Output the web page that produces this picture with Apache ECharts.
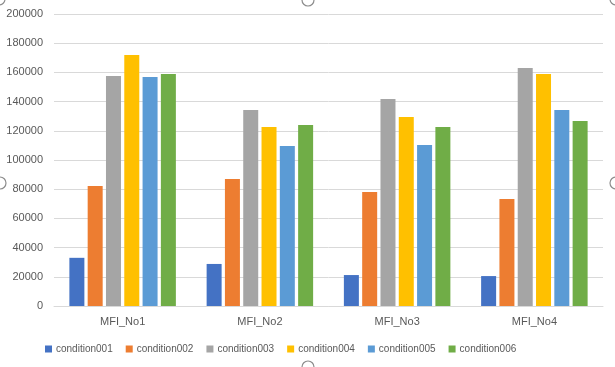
<!DOCTYPE html>
<html>
<head>
<meta charset="utf-8">
<script src="https://cdn.jsdelivr.net/npm/echarts@6/dist/echarts.min.js"></script>
<style>
  html, body { margin: 0; padding: 0; background: #fff; }
  #main { width: 615px; height: 367px; }
</style>
</head>
<body>
<div id="main"></div>
<script>
var categories = ['MFI_No1', 'MFI_No2', 'MFI_No3', 'MFI_No4'];
var seriesNames = ['condition001', 'condition002', 'condition003', 'condition004', 'condition005', 'condition006'];
var colors = ['#4472C4', '#ED7D31', '#A5A5A5', '#FFC000', '#5B9BD5', '#70AD47'];

var condition001 = [33000, 28800, 21200, 20500];
var condition002 = [82200, 87000, 78100, 73300];
var condition003 = [157500, 134200, 141800, 163000];
var condition004 = [171900, 122600, 129500, 158900];
var condition005 = [156800, 109600, 110300, 134200];
var condition006 = [158900, 124000, 122600, 126700];
var values = [condition001, condition002, condition003, condition004, condition005, condition006];

var chartDom = document.getElementById('main');
var myChart = echarts.init(chartDom);

// little selection handles around the chart frame (excel screenshot)
var handles = [[-1, -1], [308, 0], [616, -1], [0, 183], [616, 183], [308, 367]].map(function (p) {
  return {
    type: 'circle',
    shape: { cx: p[0], cy: p[1], r: 6 },
    style: { fill: '#fff', stroke: '#8c8c8c', lineWidth: 1.2 },
    z: 100
  };
});

var series = seriesNames.map(function (name, i) {
  return {
    name: name,
    type: 'bar',
    data: values[i],
    barWidth: 15,
    barGap: '22%',
    itemStyle: { color: colors[i] }
  };
});

var option = {
  animation: false,
  color: colors,
  textStyle: { fontFamily: 'Liberation Sans, Arial, sans-serif' },
  grid: { left: 54, right: 12, top: 14, bottom: 61 },
  legend: {
    data: seriesNames,
    bottom: 8,
    left: 40,
    icon: 'rect',
    itemWidth: 7,
    itemHeight: 7,
    itemGap: 13,
    textStyle: { color: '#595959', fontSize: 10, padding: [0, 0, 0, -1] }
  },
  xAxis: {
    type: 'category',
    data: categories,
    axisLine: { lineStyle: { color: '#d9d9d9' } },
    axisTick: { show: false },
    axisLabel: { color: '#595959', fontSize: 11, margin: 10 }
  },
  yAxis: {
    type: 'value',
    min: 0,
    max: 200000,
    interval: 20000,
    axisLine: { show: false },
    axisTick: { show: false },
    axisLabel: {
      color: '#595959',
      fontSize: 11,
      margin: 11,
      formatter: function (v) { return String(v); }
    },
    splitLine: { lineStyle: { color: '#d9d9d9' } }
  },
  graphic: handles,
  series: series
};

myChart.setOption(option);
window.addEventListener('resize', function () { myChart.resize(); });
</script>
</body>
</html>
